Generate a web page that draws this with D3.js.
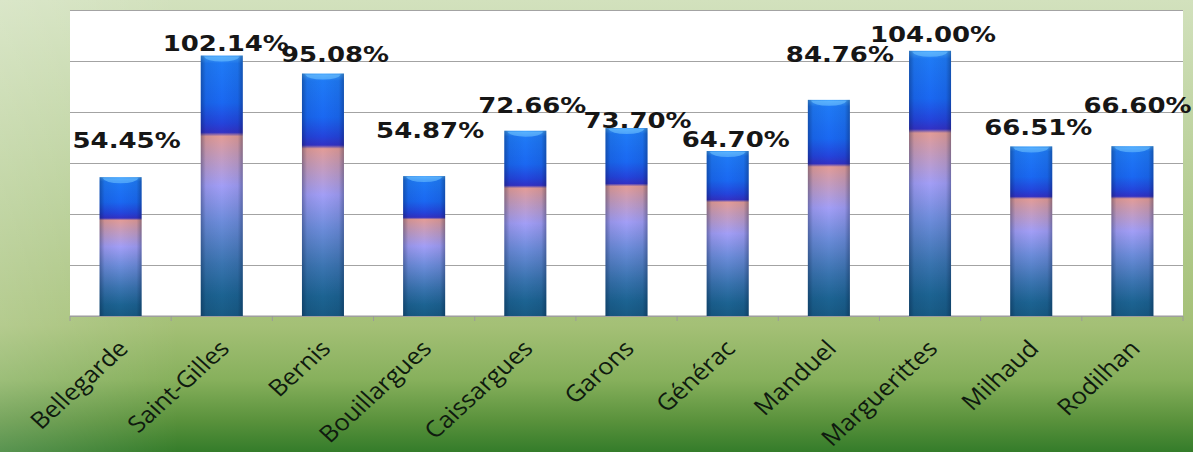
<!DOCTYPE html>
<html>
<head>
<meta charset="utf-8">
<script src="https://cdn.jsdelivr.net/npm/d3@7"></script>
<style>
  body { margin: 0; padding: 0; overflow: hidden; }
  svg { display: block; }
</style>
</head>
<body>
<div id="chart"></div>
<script>
// communes and their rates (%)
var communes = ["Bellegarde", "Saint-Gilles", "Bernis", "Bouillargues", "Caissargues",
                "Garons", "Générac", "Manduel", "Marguerittes", "Milhaud", "Rodilhan"];
var taux = [54.45, 102.14, 95.08, 54.87, 72.66, 73.70, 64.70, 84.76, 104.00, 66.51, 66.60];
var yTicks = [0, 20, 40, 60, 80, 100, 120];

// the value labels were hand-placed in the original, nudge them the same way
var labelNudge = [[6, -29], [4, -5], [12, -12], [6, -38], [7, -18], [11, 0],
                  [8, -4], [11, -38], [3, -9], [7, -11], [5, -33]];

var W = 1193, H = 452;
var margin = {top: 10, right: 10, bottom: 136, left: 70},
    width = W - margin.left - margin.right,
    height = H - margin.top - margin.bottom;

// the source picture is a bit stretched sideways, text included
var stretch = 1.18;

var svg = d3.select("#chart").append("svg")
    .attr("width", W)
    .attr("height", H);

var defs = svg.append("defs");

// green slide background
var bg = defs.append("linearGradient")
    .attr("id", "bg").attr("x1", 0).attr("y1", 0).attr("x2", 0).attr("y2", 1);
[[0, "#d2e1bd"], [0.45, "#b5cd92"], [0.72, "#a4c076"], [0.84, "#87b05c"],
 [0.93, "#5a923c"], [1, "#347c2a"]].forEach(function(s) {
  bg.append("stop").attr("offset", s[0]).attr("stop-color", s[1]);
});
var bgSide = defs.append("linearGradient")
    .attr("id", "bgSide").attr("x1", 0).attr("y1", 0).attr("x2", 1).attr("y2", 0);
bgSide.append("stop").attr("offset", 0).attr("stop-color", "#ffffff").attr("stop-opacity", 0.18);
bgSide.append("stop").attr("offset", 0.15).attr("stop-color", "#ffffff").attr("stop-opacity", 0);

// bar colour ramp, top to bottom
var barGrad = defs.append("linearGradient")
    .attr("id", "barGrad").attr("x1", 0).attr("y1", 0).attr("x2", 0).attr("y2", 1);
[[0, "#45a6ff"], [0.03, "#1f7af6"], [0.18, "#1a68f2"], [0.26, "#2444dc"],
 [0.295, "#3232c6"], [0.31, "#e29c98"], [0.38, "#c89cba"], [0.5, "#a29ef6"],
 [0.64, "#6c8cda"], [0.8, "#3a74b0"], [0.92, "#1c6392"], [1, "#185a84"]].forEach(function(s) {
  barGrad.append("stop").attr("offset", s[0]).attr("stop-color", s[1]);
});

// side shading so the bars look round
var shade = defs.append("linearGradient")
    .attr("id", "shade").attr("x1", 0).attr("y1", 0).attr("x2", 1).attr("y2", 0);
[[0, 0.35], [0.12, 0.08], [0.5, 0], [0.88, 0.08], [1, 0.35]].forEach(function(s) {
  shade.append("stop").attr("offset", s[0]).attr("stop-color", "#001030").attr("stop-opacity", s[1]);
});

svg.append("rect").attr("width", W).attr("height", H).attr("fill", "url(#bg)");
svg.append("rect").attr("width", W).attr("height", H).attr("fill", "url(#bgSide)");

var g = svg.append("g")
    .attr("transform", "translate(" + margin.left + "," + margin.top + ")");

var x = d3.scaleBand()
    .domain(communes)
    .range([0, width])
    .paddingInner(0.585)
    .paddingOuter(0.2925);

var y = d3.scaleLinear()
    .domain([0, 120])
    .range([height, 0]);

// white plot area
g.append("rect")
    .attr("width", width)
    .attr("height", height)
    .attr("fill", "#ffffff");

// gridlines
g.append("g")
    .attr("class", "grid")
    .call(d3.axisLeft(y).tickValues(yTicks).tickSize(-width).tickFormat(""))
    .call(function(s) {
      s.select(".domain").remove();
      s.selectAll("line").attr("stroke", "#a3a3a3").attr("stroke-width", 1);
    });

// category ticks on the boundaries
var bounds = d3.range(communes.length + 1).map(function(i) { return i * width / communes.length; });
g.selectAll("line.ctick")
    .data(bounds)
    .enter().append("line")
    .attr("class", "ctick")
    .attr("x1", function(d) { return d; })
    .attr("x2", function(d) { return d; })
    .attr("y1", height)
    .attr("y2", height + 5)
    .attr("stroke", "#9a9a9a");

g.append("line")
    .attr("x1", 0).attr("x2", width)
    .attr("y1", height).attr("y2", height)
    .attr("stroke", "#9a9a9a");

var data = communes.map(function(c, i) { return {name: c, value: taux[i], nudge: labelNudge[i]}; });

var bar = g.selectAll("g.bar")
    .data(data)
    .enter().append("g")
    .attr("class", "bar")
    .attr("transform", function(d) { return "translate(" + x(d.name) + ",0)"; });

bar.append("rect")
    .attr("y", function(d) { return y(d.value); })
    .attr("width", x.bandwidth())
    .attr("height", function(d) { return height - y(d.value); })
    .attr("fill", "url(#barGrad)");

bar.append("rect")
    .attr("y", function(d) { return y(d.value); })
    .attr("width", x.bandwidth())
    .attr("height", function(d) { return height - y(d.value); })
    .attr("fill", "url(#shade)");

// little glossy cap on top
bar.append("path")
    .attr("d", function(d) {
      var t = y(d.value), w = x.bandwidth();
      return "M 3 " + (t + 1) + " L " + (w - 3) + " " + (t + 1) +
             " Q " + (w - 6) + " " + (t + 6) + " " + (w / 2) + " " + (t + 6) +
             " Q 6 " + (t + 6) + " 3 " + (t + 1) + " Z";
    })
    .attr("fill", "#6cc0ff")
    .attr("opacity", 0.6);

// value labels
g.selectAll("text.val")
    .data(data)
    .enter().append("text")
    .attr("class", "val")
    .attr("transform", function(d) {
      return "translate(" + (x(d.name) + x.bandwidth() / 2 + d.nudge[0]) + "," +
             (y(d.value) + d.nudge[1]) + ") scale(" + stretch + ",1)";
    })
    .attr("text-anchor", "middle")
    .style("font-family", "'DejaVu Sans', Verdana, sans-serif")
    .style("font-weight", "bold")
    .style("font-size", "22px")
    .style("fill", "#161616")
    .text(function(d) { return d3.format(".2f")(d.value) + "%"; });

// rotated category labels
g.selectAll("text.cat")
    .data(data)
    .enter().append("text")
    .attr("class", "cat")
    .attr("transform", function(d) {
      return "translate(" + (x(d.name) + x.bandwidth() / 2 + 9) + "," + (height + 34) + ")" +
             " scale(1.1,1) rotate(-45)";
    })
    .attr("text-anchor", "end")
    .style("font-family", "'Open Sans', 'Noto Sans', sans-serif")
    .style("font-size", "23px")
    .style("fill", "#0f1a0f")
    .text(function(d) { return d.name; });
</script>
</body>
</html>
